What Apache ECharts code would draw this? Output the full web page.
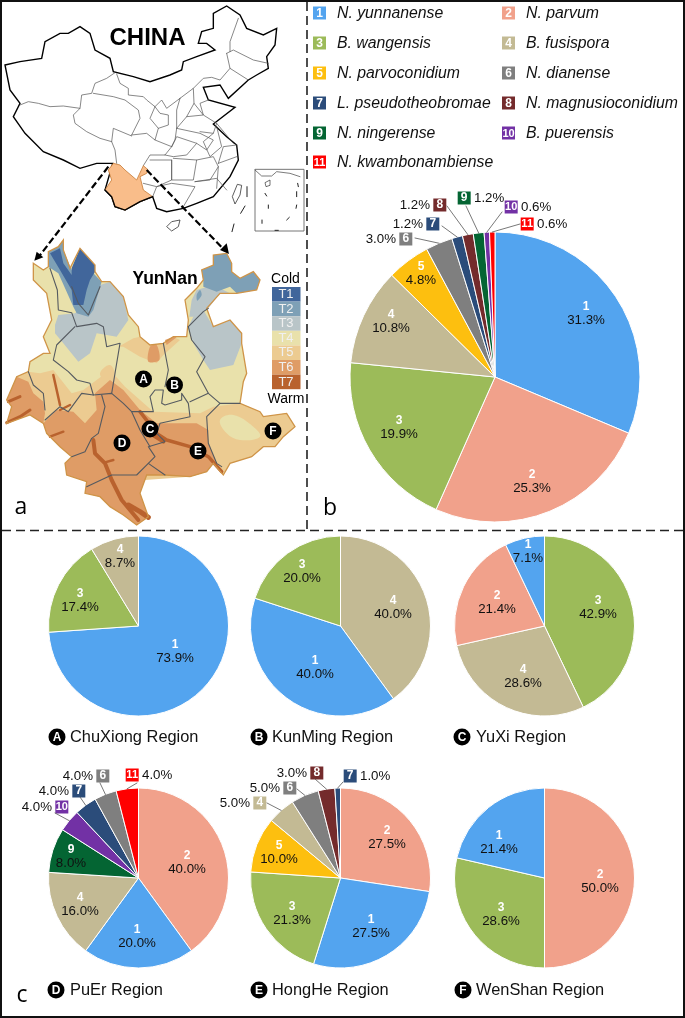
<!DOCTYPE html>
<html><head><meta charset="utf-8">
<style>html,body{margin:0;padding:0;background:#fff}#c{width:685px;height:1018px}</style>
<script src="https://cdn.jsdelivr.net/npm/echarts@6/dist/echarts.min.js"></script>
</head><body><div id="c"></div>
<script>
// ---------- data ----------
const speciesNames = ['N. yunnanense','N. parvum','B. wangensis','B. fusispora','N. parvoconidium','N. dianense','L. pseudotheobromae','N. magnusioconidium','N. ningerense','B. puerensis','N. kwambonambiense'];
const speciesColors = ['#53a4ef','#f1a18b','#9cbb59','#c3ba94','#fdbf0f','#7f7f7f','#2b4c7a','#742b2c','#046533','#7231a5','#ff0000'];
const overallIds = [1,2,3,4,5,6,7,8,9,10,11];
const overallValues = [31.3,25.3,19.9,10.8,4.8,3.0,1.2,1.2,1.2,0.6,0.6];
const chuxiongIds = [1,3,4];
const chuxiongValues = [73.9,17.4,8.7];
const kunmingIds = [4,1,3];
const kunmingValues = [40.0,40.0,20.0];
const yuxiIds = [3,4,2,1];
const yuxiValues = [42.9,28.6,21.4,7.1];
const puerIds = [2,1,4,9,10,7,6,11];
const puerValues = [40.0,20.0,16.0,8.0,4.0,4.0,4.0,4.0];
const hongheIds = [2,1,3,5,4,6,8,7];
const hongheValues = [27.5,27.5,21.3,10.0,5.0,5.0,3.0,1.0];
const wenshanIds = [2,3,1];
const wenshanValues = [50.0,28.6,21.4];
const tempLabels = ['T1','T2','T3','T4','T5','T6','T7'];
const tempColors = ['#41669b','#7ea0b6','#b9c5c8','#e9e1ab','#eccb91','#df9c66','#b9622e'];

// ---------- layout ----------
const FONT = '"Liberation Sans", Arial, sans-serif';
const pies = [
  {key:'all', ids:overallIds, vals:overallValues, c:[495,377], r:145,
   inner:{1:[586,314],2:[532,482],3:[399,428],4:[391,322],5:[421,274]},
   outer:{6:[389,239,0,415,238],7:[416,224,0,442,226],8:[423,205,0,447,206],9:[481,198,1,466,206],10:[528,207,1,502,212],11:[544,224,1,520,224]}},
  {key:'cx', ids:chuxiongIds, vals:chuxiongValues, c:[138.5,626], r:90,
   inner:{1:[175,652],3:[80,601],4:[120,557]}, outer:{}},
  {key:'km', ids:kunmingIds, vals:kunmingValues, c:[340.5,626], r:90,
   inner:{3:[302,572],1:[315,668],4:[393,608]}, outer:{}},
  {key:'yx', ids:yuxiIds, vals:yuxiValues, c:[544.5,626], r:90,
   inner:{3:[598,608],4:[523,677],2:[497,603],1:[528,552]}, outer:{}},
  {key:'pe', ids:puerIds, vals:puerValues, c:[138.5,878], r:90,
   inner:{2:[187,863],1:[137,937],4:[80,905],9:[71,857]},
   outer:{11:[149,775,1,137,783],6:[86,776,0,100,783],7:[62,791,0,80,797],10:[45,807,0,55,813]}},
  {key:'hh', ids:hongheIds, vals:hongheValues, c:[340.5,878], r:90,
   inner:{2:[387,838],5:[279,853],3:[292,914],1:[371,927]},
   outer:{7:[367,776,1,343,782],8:[300,773,0,315,779],6:[273,788,0,297,789],4:[243,803,0,267,803]}},
  {key:'ws', ids:wenshanIds, vals:wenshanValues, c:[544.5,878], r:90,
   inner:{2:[600,882],3:[501,915],1:[499,843]}, outer:{}}
];

const rich = {
  pct:{fontFamily:FONT,fontSize:13.3,color:'#111',lineHeight:14},
  num:{fontFamily:FONT,fontSize:12,fontWeight:'bold',color:'#fff',lineHeight:13}
};
speciesColors.forEach((col,i)=>{
  rich['b'+(i+1)] = {fontFamily:FONT,fontSize:i>=9?11:12,fontWeight:'bold',color:'#fff',
    backgroundColor:col,width:13,height:13,lineHeight:13,align:'center'};
});

const series = pies.map(p=>({
  type:'pie', name:p.key, center:p.c, radius:[0,p.r], startAngle:90, clockwise:true,
  avoidLabelOverlap:false, silent:true, animation:false,
  minAngle:0, percentPrecision:1,
  itemStyle:{borderColor:'#fff',borderWidth:1},
  labelLine:{show:false},
  data:p.ids.map((id,i)=>{
    const txt=p.vals[i].toFixed(1)+'%';
    const out=p.outer[id];
    const fmt= out ? (out[2] ? `{b${id}|${id}} {pct|${txt}}` : `{pct|${txt}} {b${id}|${id}}`)
                   : `{num|${id}}\n{pct|${txt}}`;
    return {name:speciesNames[id-1], value:p.vals[i],
      itemStyle:{color:speciesColors[id-1]},
      label:{show:true,position:out?'outside':'inside',formatter:fmt,rich,align:'center'},
      labelLine:{show:false}};
  }),
  labelLayout:(a)=>{
    const id=p.ids[a.dataIndex];
    const s=p.outer[id]||p.inner[id];
    return {x:s[0],y:s[1],align:'center',verticalAlign:'middle',hideOverlap:false,moveOverlap:false};
  }
}));

// ---------- map shapes (decorative drawing, carry no data) ----------
const z1=pts=>pts.map(q=>[q[0]/3,q[1]/3]);
const z2=pts=>pts.map(q=>[q[0]/3,230+q[1]/3]);
const G=[];
const poly=(pts,fill,stroke,lw,smooth,z)=>G.push({type:'polygon',silent:true,z:z||1,shape:{points:pts,smooth:smooth||0},style:{fill:fill,stroke:stroke||null,lineWidth:lw||0}});
const line=(pts,stroke,lw,dash,z)=>G.push({type:'polyline',silent:true,z:z||2,shape:{points:pts},style:{fill:null,stroke,lineWidth:lw,lineDash:dash||null,lineJoin:'round',lineCap:dash?'butt':'round'}});
const text=(x,y,t,font,fill,align)=>G.push({type:'text',silent:true,z:6,x,y,style:{text:t,font,fill:fill||'#000',align:align||'center',verticalAlign:'middle'}});

// leader lines: from the label to the middle of its slice's rim
pies.forEach(p=>{
  const tot=p.vals.reduce((a,b)=>a+b,0);
  let cum=0;
  p.ids.forEach((id,i)=>{
    const mid=(cum+p.vals[i]/2)/tot*2*Math.PI; cum+=p.vals[i];
    const o=p.outer[id];
    if(o) line([[o[3],o[4]],[p.c[0]+p.r*Math.sin(mid),p.c[1]-p.r*Math.cos(mid)]],'#555',0.8,null,7);
  });
});

// frame
G.push({type:'rect',silent:true,z:9,shape:{x:0,y:0,width:685,height:1018},style:{fill:null,stroke:'#111',lineWidth:4}});
line([[307,2],[307,530]],'#222',1.6,[9,5],8);
line([[2,530.5],[683,530.5]],'#222',1.6,[9,5],8);

// China
const chinaOutline=[[15,195],[60,185],[125,175],[135,125],[180,100],[205,100],[240,80],[270,100],[285,150],[330,175],[340,215],[400,230],[450,245],[510,225],[545,210],[550,185],[590,170],[645,150],[620,130],[595,130],[605,95],[640,85],[640,40],[680,18],[720,45],[740,85],[790,105],[830,85],[825,135],[800,170],[805,205],[770,225],[745,240],[685,295],[660,255],[610,262],[625,300],[705,322],[640,372],[680,410],[710,435],[715,480],[690,530],[640,590],[590,610],[550,625],[500,635],[470,625],[458,590],[420,605],[375,630],[345,620],[335,590],[315,570],[338,490],[290,490],[240,505],[190,480],[130,455],[75,400],[40,350],[60,310],[30,270]];
poly(z1(chinaOutline),'#fff','#000',1.4,0,2);
const provinces=[
 [[60,315],[85,305],[115,310],[150,320],[190,318],[240,325],[245,285],[275,280],[285,250],[320,235],[345,218]],
 [[240,325],[220,345],[225,370],[260,395],[300,415],[335,425],[345,450],[350,490]],
 [[280,280],[340,290],[375,300],[415,330],[420,355],[395,405]],
 [[335,425],[340,385],[395,408]],
 [[350,222],[360,250],[385,265],[385,285],[430,290],[440,300],[465,320]],
 [[395,405],[440,400],[465,420],[475,385],[450,355],[465,320],[485,300],[500,325],[540,295]],
 [[465,320],[480,340],[505,345],[505,375],[475,385]],
 [[540,295],[530,330],[530,385],[525,420],[515,440]],
 [[540,295],[580,265],[582,310],[560,350],[530,385]],
 [[580,265],[610,235],[635,232],[660,240],[690,205],[680,160]],
 [[465,420],[515,440],[495,465],[450,465],[430,497]],
 [[515,440],[530,410],[590,430],[560,465],[520,470],[495,465]],
 [[530,385],[600,400],[640,420],[620,450],[590,430]],
 [[560,350],[610,345],[650,370],[640,400],[600,395]],
 [[582,310],[610,345],[600,310],[625,300]],
 [[520,475],[590,480],[580,540],[515,540],[515,480]],
 [[450,480],[515,480],[515,540],[470,560],[430,550]],
 [[458,590],[470,560],[515,550],[585,560],[550,620]],
 [[585,545],[650,535],[680,570]],
 [[590,480],[640,470],[655,500],[630,540],[585,545]],
 [[655,490],[710,470]],[[655,500],[650,565]],
 [[655,490],[670,440],[710,435]],
 [[640,400],[610,425],[630,470],[665,440],[650,380]],
 [[650,370],[700,430]],
 [[680,160],[700,150],[760,180],[805,190]],
 [[690,205],[745,240]],
 [[715,55],[690,125],[690,155]]
];
provinces.forEach(p=>line(z1(p),'#555',0.7));
const yunnanSmall=[[340,490],[360,495],[375,510],[410,540],[430,497],[445,510],[440,520],[420,530],[430,570],[458,590],[420,605],[375,630],[345,620],[335,590],[315,570],[335,540],[325,510]];
poly(z1(yunnanSmall),'#f9bd8a','#c77a34',0.8,0,3);
line(z1([[458,590],[420,605],[375,630],[345,620],[335,590],[315,570]]),'#000',1.3,null,3);
poly(z1([[697,590],[712,553],[725,556],[720,585],[705,612]]),'#fff','#333',0.8);
poly(z1([[500,680],[515,665],[540,660],[535,680],[515,693]]),'#fff','#333',0.8);
[[[741,560],[741,590]],[[735,618],[722,640]],[[702,672],[696,695]]].forEach(p=>line(z1(p),'#222',1));
// inset
poly(z1([[765,508],[912,508],[912,693],[765,693]]),'#fff','#666',0.9);
line(z1([[765,510],[785,528],[815,528],[830,515],[870,520],[900,530]]),'#444',0.7);
poly(z1([[795,548],[810,540],[810,556],[798,560]]),'#fff','#333',0.7);
[[[795,580],[800,588]],[[805,615],[805,625]],[[786,660],[786,670]],[[860,660],[868,652]],[[890,615],[888,625]],[[890,575],[890,590]],[[893,550],[895,560]],[[825,691],[835,691]]].forEach(p=>line(z1(p),'#222',1));

// arrows
line(z1([[325,500],[115,772]]),'#000',2.2,[7,3],7);
line(z1([[440,510],[675,752]]),'#000',2.2,[7,3],7);
poly(z1([[103,782],[110,755],[130,772]]),'#000',null,0,0,7);
poly(z1([[687,762],[660,750],[680,730]]),'#000',null,0,0,7);

// Yunnan
const outline=[[100,100],[130,120],[145,110],[145,65],[175,50],[190,30],[190,60],[210,115],[240,55],[285,105],[285,125],[305,155],[330,155],[370,200],[385,255],[415,290],[420,320],[450,345],[490,340],[520,320],[560,320],[565,270],[555,210],[590,175],[610,150],[605,120],[640,105],[640,75],[680,70],[695,100],[695,125],[720,145],[760,125],[780,150],[770,180],[710,190],[660,190],[620,235],[640,290],[690,270],[725,310],[725,340],[740,430],[730,455],[720,520],[780,545],[790,560],[860,550],[885,590],[850,620],[825,650],[790,650],[755,680],[690,700],[670,735],[640,700],[620,725],[570,740],[495,735],[440,735],[420,790],[445,860],[410,885],[370,855],[330,830],[300,800],[255,790],[260,755],[200,735],[195,700],[215,680],[180,650],[140,610],[130,580],[90,555],[20,580],[35,530],[20,510],[50,440],[85,425],[90,395],[130,370],[150,370],[130,320],[155,270],[140,190],[100,150]];
poly(z2(outline),tempColors[3],null,0,0,2);
// T5
poly(z2([[50,440],[85,425],[120,430],[160,420],[215,490],[250,480],[290,450],[330,420],[375,470],[460,545],[600,550],[640,530],[720,520],[780,545],[790,560],[860,550],[885,590],[850,620],[825,650],[790,650],[755,680],[690,700],[670,735],[640,700],[620,725],[570,740],[300,760],[140,610],[130,580]]),tempColors[4],null,0,0,3);
poly(z2([[660,570],[700,555],[760,590],[780,620],[720,630],[680,610]]),tempColors[3],null,0,0.4,3);
poly(z2([[355,350],[400,325],[420,320],[450,345],[490,340],[520,320],[540,330],[490,375],[470,400],[420,380],[370,350]]),tempColors[4],null,0,0,3);
poly(z2([[300,430],[330,405],[345,440],[320,455]]),tempColors[4],null,0,0.4,3);
// T6
poly(z2([[140,610],[130,580],[170,540],[220,545],[255,580],[290,540],[285,490],[330,450],[370,480],[420,540],[470,580],[590,580],[625,600],[625,640],[650,700],[670,735],[640,700],[620,725],[570,740],[495,735],[440,735],[420,790],[445,860],[410,885],[370,855],[330,830],[300,800],[255,790],[260,755],[200,735],[195,700],[215,680],[180,650]]),tempColors[5],null,0,0,4);
poly(z2([[20,580],[35,530],[20,510],[50,440],[85,455],[100,490],[130,515],[135,550],[130,580],[90,555]]),tempColors[5],null,0,0,4);
poly(z2([[450,350],[470,345],[478,390],[445,395]]),tempColors[5],null,0,0.3,4);
poly(z2([[495,330],[520,320],[530,322],[500,345]]),tempColors[5],null,0,0,4);
// T3
poly(z2([[165,285],[175,255],[225,250],[250,230],[285,170],[330,155],[370,200],[385,270],[350,320],[290,310],[270,370],[235,395],[190,340],[165,310]]),tempColors[2],null,0,0,4);
poly(z2([[580,260],[610,240],[640,290],[690,270],[725,310],[725,340],[700,405],[630,420],[610,390],[580,340],[565,290]]),tempColors[2],null,0,0,4);
poly(z2([[568,260],[575,210],[590,180],[640,165],[690,190],[660,190],[625,235],[590,260]]),tempColors[2],null,0,0,4);
// T2
poly(z2([[145,110],[145,65],[175,50],[190,30],[190,60],[215,120],[240,165],[280,130],[305,155],[280,240],[265,260],[230,250],[220,230],[175,130]]),tempColors[1],null,0,0,5);
poly(z2([[610,150],[605,120],[640,105],[640,75],[680,70],[695,100],[695,125],[720,145],[760,125],[780,150],[770,180],[710,190],[690,170],[650,185],[610,170]]),tempColors[1],null,0,0,5);
poly(z2([[590,195],[600,180],[605,195],[592,212]]),tempColors[1],null,0,0.3,5);
// T1
poly(z2([[150,70],[180,55],[190,100],[215,135],[215,115],[240,55],[285,105],[285,125],[270,150],[260,180],[250,225],[220,225],[215,180],[180,120]]),tempColors[0],null,0,0,5);
// T7 rivers
[[[20,578],[60,560],[90,540],3],[[25,515],[60,500],3],[[160,435],[170,480],[180,525],2.5],[[150,620],[190,605],2.5],[[180,540],[210,525],2.5],
 [[280,630],[285,670],[315,700],[335,750],[365,810],[415,870],4],[[315,697],[340,690],2.5],[[385,825],[420,845],[445,862],5],
 [[420,545],[470,610],[500,630],[570,650],[625,680],[665,725],3.5],[[450,610],[490,635],4]].forEach(r=>{
   const w=r.pop(); line(z2(r),tempColors[6],w,null,5);
});
// outer rim on top of the zones
poly(z2(outline),null,'#cf9448',1.3,0,5);
// prefecture borders
const prefectures=[
 [[150,115],[172,180],[175,240],[215,248],[230,290],[290,280],[310,290],[320,350],[360,340],[350,400],[335,490]],
 [[225,290],[170,345],[160,390],[205,425],[230,450],[270,460],[280,495],[335,490],[370,520],[395,545],[460,545],[450,500],[465,480],[490,480],[485,520],[495,525],[545,510],[545,490],[565,520],[570,560],[480,580],[470,610],[495,635],[445,650],[465,680],[445,700],[495,735]],
 [[85,425],[100,465],[130,490],[135,540]],
 [[280,495],[245,490],[205,545],[180,530],[135,570]],
 [[305,495],[315,530],[295,610],[275,625],[255,665],[215,680]],
 [[395,545],[420,600],[450,650]],
 [[260,770],[335,735],[410,735],[445,700]],
 [[490,340],[505,420],[495,470]],
 [[565,290],[575,330],[615,380],[590,425],[625,490],[660,520],[620,560],[625,640],[650,700],[665,710]],
 [[625,490],[570,515]],[[660,520],[720,520]],
 [[565,290],[610,245],[625,235]],
 [[215,170],[235,220],[265,255],[300,170]]
];
prefectures.forEach(p=>line(z2(p),'#555a60',1.1,null,5));

// temperature key
tempLabels.forEach((t,i)=>{
  G.push({type:'rect',silent:true,z:4,shape:{x:272,y:287+i*14.6,width:28.5,height:14.6},style:{fill:tempColors[i]}});
  text(286,294.5+i*14.6,t,'13px '+FONT,'#f0f0f0');
});
text(285.5,279,'Cold','14px '+FONT);
text(286,399,'Warm','14px '+FONT);
text(147.5,38,'CHINA','bold 24px '+FONT);
text(165,279,'YunNan','bold 17.5px '+FONT);

// map letter badges
const badge=(x,y,l,r,fs)=>{
  G.push({type:'circle',silent:true,z:6,shape:{cx:x,cy:y,r:r},style:{fill:'#000',stroke:null}});
  text(x,y+0.5,l,'bold '+fs+'px '+FONT,'#fff');
};
[['A',143.5,379],['B',174.5,385],['C',150,429],['D',122,443],['E',198,451],['F',273,431]].forEach(b=>badge(b[1],b[2],b[0],8.5,12));

// panel letters
text(21,507,'a','23px "Open Sans", '+FONT);
text(330,508,'b','23px "Open Sans", '+FONT);
text(22,995,'c','23px "Open Sans", '+FONT);

// legend
const legendRows=[[313,13,0],[502,13,1],[313,43,2],[502,43,3],[313,73,4],[502,73,5],[313,103,6],[502,103,7],[313,133,8],[502,133,9],[313,162,10]];
legendRows.forEach(r=>{
  const i=r[2];
  G.push({type:'rect',silent:true,z:5,shape:{x:r[0],y:r[1]-6.5,width:13,height:13},style:{fill:speciesColors[i]}});
  text(r[0]+6.5,r[1]+0.5,String(i+1),'bold '+(i>=9?11:12)+'px '+FONT,'#fff');
  G.push({type:'text',silent:true,z:6,x:r[0]+24,y:r[1]+0.5,style:{text:speciesNames[i],font:'italic 15.8px '+FONT,fill:'#111',align:'left',verticalAlign:'middle'}});
});

// region captions
const captions=[['A','ChuXiong Region',57,70,737],['B','KunMing Region',259,272,737],['C','YuXi Region',462,476,737],['D','PuEr Region',56,70,990],['E','HongHe Region',259,272,990],['F','WenShan Region',463,476,990]];
captions.forEach(c=>{
  badge(c[2],c[4],c[0],8.5,12);
  G.push({type:'text',silent:true,z:6,x:c[3],y:c[4],style:{text:c[1],font:'16.4px '+FONT,fill:'#111',align:'left',verticalAlign:'middle'}});
});

const chart=echarts.init(document.getElementById('c'),null,{renderer:'canvas'});
chart.setOption({animation:false,backgroundColor:'#fff',series,graphic:{elements:G}});
</script></body></html>
